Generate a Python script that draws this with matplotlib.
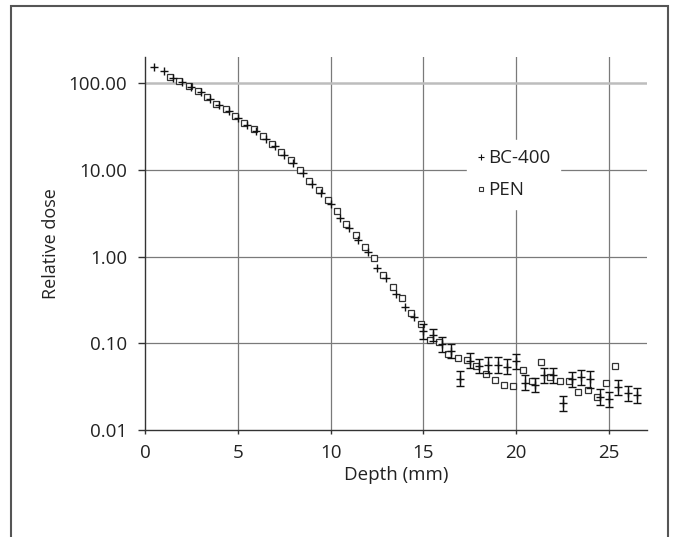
import matplotlib
matplotlib.use("Agg")
import matplotlib.pyplot as plt
import numpy as np
from matplotlib.lines import Line2D
from matplotlib.patches import Rectangle

plt.rcParams['font.family'] = ['Open Sans', 'DejaVu Sans']

# BC-400 (plus markers)
bc_depth = [0.5, 1.0, 1.5, 2.0, 2.5, 3.0, 3.5, 4.0, 4.5, 5.0, 5.5, 6.0, 6.5, 7.0,
            7.5, 8.0, 8.5, 9.0, 9.5, 10.0, 10.5, 11.0, 11.5, 12.0, 12.5, 13.0,
            13.5, 14.0, 14.5, 15.0, 15.5, 16.0, 16.5, 17.0, 17.5, 18.0, 18.5,
            19.0, 19.5, 20.0, 20.5, 21.0, 21.5, 22.0, 22.5, 23.0, 23.5, 24.0,
            24.5, 25.0, 25.5, 26.0, 26.5]
bc_dose = [152, 137, 114, 102, 89, 78, 66, 55.6, 47.5, 39.8, 33, 27.9, 22.9, 18.6,
           14.8, 12.0, 9.1, 6.8, 5.4, 4.09, 2.79, 2.12, 1.54, 1.13, 0.747, 0.573,
           0.367, 0.26, 0.201, 0.138, 0.124, 0.097, 0.081, 0.039, 0.0628, 0.0547, 0.0565,
           0.0562, 0.0536, 0.0619, 0.035, 0.0327, 0.0428, 0.0428, 0.0203, 0.0385, 0.0406, 0.0385,
           0.024, 0.0226, 0.031, 0.0265, 0.0251]
# error bar half-height in decades (only for depth >= 15 mm)
bc_err_depth = [15.0, 15.5, 16.0, 16.5, 17.0, 17.5, 18.0, 18.5, 19.0, 19.5, 20.0, 20.5,
                21.0, 21.5, 22.0, 22.5, 23.0, 23.5, 24.0, 24.5, 25.0, 25.5, 26.0, 26.5]
bc_err_dex = [0.087, 0.07, 0.087, 0.081, 0.087, 0.087, 0.081, 0.092, 0.092, 0.087, 0.087, 0.087,
              0.081, 0.087, 0.087, 0.084, 0.087, 0.084, 0.096, 0.09, 0.087, 0.087, 0.087, 0.087]

# PEN (open squares)
pen_depth = [1.35, 1.85, 2.35, 2.85, 3.35, 3.85, 4.35, 4.85, 5.35, 5.85, 6.35, 6.85,
             7.35, 7.85, 8.35, 8.85, 9.35, 9.85, 10.35, 10.85, 11.35, 11.85, 12.35,
             12.85, 13.35, 13.85, 14.35, 14.85, 15.35, 15.85, 16.35, 16.85, 17.35,
             17.85, 18.35, 18.85, 19.35, 19.85, 20.35, 20.85, 21.35, 21.85, 22.35,
             22.85, 23.35, 23.85, 24.35, 24.85, 25.35]
pen_dose = [117, 106, 92, 81, 70, 58, 50, 42, 34.8, 29.5, 24.4, 20.1,
            15.9, 12.9, 9.9, 7.35, 5.82, 4.43, 3.36, 2.38, 1.76, 1.29, 0.95,
            0.61, 0.44, 0.333, 0.226, 0.169, 0.108, 0.103, 0.0747, 0.0677, 0.064,
            0.0553, 0.0447, 0.0374, 0.0334, 0.0325, 0.0498, 0.0365, 0.0608, 0.0406, 0.0365,
            0.0365, 0.0274, 0.0287, 0.0238, 0.0348, 0.0547]

x_ticks = [0, 5, 10, 15, 20, 25]
y_ticks = [0.01, 0.1, 1, 10, 100]
y_tick_labels = ['0.01', '0.10', '1.00', '10.00', '100.00']

W, H = 681, 537
fig = plt.figure(figsize=(W / 100, H / 100), dpi=100)
ax = fig.add_axes([145 / W, 1 - 430 / H, (647 - 145) / W, (430 - 57) / H])

ax.set_yscale('log')
ax.set_xlim(0, 27.05)
ax.set_ylim(0.01, 200)

# grid
for xv in x_ticks[1:]:
    ax.axvline(xv, color='#7a7a7a', lw=0.9, zorder=0)
for yv in y_ticks[1:4]:
    ax.axhline(yv, color='#7a7a7a', lw=0.9, zorder=0)
ax.axhline(100, color='#bdbdbd', lw=1.8, zorder=0)

# PEN squares
ax.plot(pen_depth, pen_dose, linestyle='none', marker='s', markersize=4.5,
        markerfacecolor='white', markeredgecolor='#333333', markeredgewidth=0.9, zorder=3)

# BC-400 plus markers
bc_d = np.array(bc_depth)
bc_v = np.array(bc_dose)
ax.plot(bc_d, bc_v, linestyle='none', marker='+', markersize=5.5,
        color='#111111', markeredgewidth=1.0, zorder=4)

# error bars
ed = np.array(bc_err_depth)
idx = [bc_depth.index(d) for d in bc_err_depth]
ev = bc_v[idx]
dex = np.array(bc_err_dex)
lo = ev - ev * 10 ** (-dex)
hi = ev * 10 ** dex - ev
ax.errorbar(ed, ev, yerr=[lo, hi], fmt='none', ecolor='#111111', elinewidth=1.0,
            capsize=2.6, capthick=1.0, zorder=4)

# axes styling
for s in ['top', 'right']:
    ax.spines[s].set_visible(False)
for s in ['left', 'bottom']:
    ax.spines[s].set_color('#333333')
    ax.spines[s].set_linewidth(1.0)

ax.set_xticks(x_ticks)
ax.set_xticklabels([str(v) for v in x_ticks])
ax.set_yticks(y_ticks)
ax.set_yticklabels(y_tick_labels)
ax.yaxis.set_minor_locator(matplotlib.ticker.NullLocator())
ax.tick_params(axis='y', length=5, width=1, color='#333333', labelsize=13.5,
               labelcolor='#222222', pad=8)
ax.tick_params(axis='x', length=3, width=1, color='#333333', labelsize=13.5,
               labelcolor='#222222', pad=7)

ax.set_xlabel('Depth (mm)', fontsize=13.5, color='#222222', labelpad=3)
ax.set_ylabel('Relative dose', fontsize=13, color='#222222', labelpad=6)

# legend
handles = [Line2D([], [], linestyle='none', marker='+', markersize=4, color='#111111',
                  markeredgewidth=0.8),
           Line2D([], [], linestyle='none', marker='s', markersize=3.5,
                  markerfacecolor='white', markeredgecolor='#333333', markeredgewidth=0.8)]
leg = ax.legend(handles, ['BC-400', 'PEN'], loc='upper left',
                bbox_to_anchor=(467 / W, 1 - 140 / H), bbox_transform=fig.transFigure,
                frameon=True, fancybox=False, framealpha=1, edgecolor='white',
                facecolor='white', fontsize=13.5, handlelength=0.5, handletextpad=0.15,
                labelspacing=0.75, borderpad=0.5, borderaxespad=0)
for t in leg.get_texts():
    t.set_color('#222222')

# figure frame
fig.add_artist(Rectangle((11 / W, -0.05), (668 - 11) / W, 1.05 - 6 / H,
                         transform=fig.transFigure, fill=False,
                         edgecolor='#555555', linewidth=1.5))

fig.savefig('out.png', dpi=100)
